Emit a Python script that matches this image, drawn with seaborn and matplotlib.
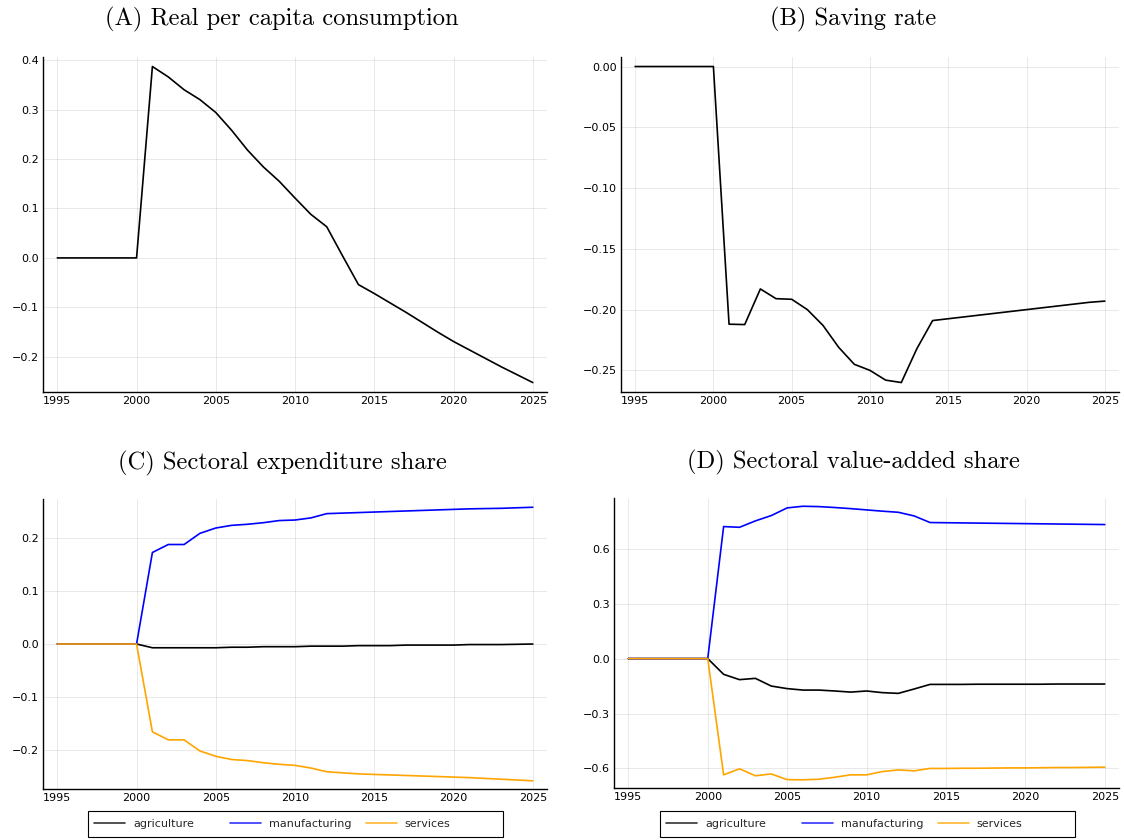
import matplotlib
matplotlib.use('Agg')
import matplotlib.pyplot as plt
import seaborn as sns
import pandas as pd
from matplotlib.ticker import FuncFormatter
from matplotlib.lines import Line2D
from matplotlib.patches import Rectangle

years = list(range(1995, 2026))

# (A) real per capita consumption
consumption = [0.0, 0.0, 0.0, 0.0, 0.0, 0.0,
               0.387, 0.366, 0.340, 0.320, 0.294, 0.258, 0.218, 0.184, 0.155, 0.121,
               0.088, 0.063, 0.004, -0.054, -0.072, -0.091, -0.110, -0.130, -0.150, -0.169,
               -0.186, -0.203, -0.220, -0.236, -0.252]

# (B) saving rate
saving = [0.0, 0.0, 0.0, 0.0, 0.0, 0.0,
          -0.212, -0.2123, -0.183, -0.191, -0.1915, -0.200, -0.213, -0.231, -0.245, -0.250,
          -0.258, -0.260, -0.232, -0.209, -0.2075, -0.206, -0.2045, -0.203, -0.2015, -0.200,
          -0.1985, -0.197, -0.1955, -0.194, -0.193]

# (C) sectoral expenditure share
exp_agri = [0.0, 0.0, 0.0, 0.0, 0.0, 0.0,
            -0.007, -0.007, -0.007, -0.007, -0.007, -0.006, -0.006, -0.005, -0.005, -0.005,
            -0.004, -0.004, -0.004, -0.003, -0.003, -0.003, -0.002, -0.002, -0.002, -0.002,
            -0.001, -0.001, -0.001, -0.0005, 0.0]
exp_manu = [0.0, 0.0, 0.0, 0.0, 0.0, 0.0,
            0.172, 0.187, 0.187, 0.208, 0.218, 0.223, 0.225, 0.228, 0.232, 0.233,
            0.237, 0.245, 0.246, 0.247, 0.248, 0.249, 0.250, 0.251, 0.252, 0.253,
            0.254, 0.2545, 0.255, 0.256, 0.257]
exp_serv = [0.0, 0.0, 0.0, 0.0, 0.0, 0.0,
            -0.165, -0.180, -0.180, -0.201, -0.211, -0.217, -0.219, -0.223, -0.226, -0.228,
            -0.233, -0.240, -0.242, -0.244, -0.245, -0.246, -0.247, -0.248, -0.249, -0.250,
            -0.251, -0.2525, -0.254, -0.2555, -0.257]

# (D) sectoral value-added share
va_agri = [0.0, 0.0, 0.0, 0.0, 0.0, 0.0,
           -0.086, -0.115, -0.108, -0.150, -0.164, -0.172, -0.172, -0.177, -0.183, -0.177,
           -0.186, -0.190, -0.166, -0.141, -0.141, -0.141, -0.140, -0.140, -0.140, -0.140,
           -0.140, -0.139, -0.139, -0.139, -0.139]
va_manu = [0.0, 0.0, 0.0, 0.0, 0.0, 0.0,
           0.721, 0.717, 0.752, 0.781, 0.823, 0.832, 0.830, 0.825, 0.819, 0.812,
           0.805, 0.799, 0.779, 0.743, 0.742, 0.741, 0.740, 0.739, 0.738, 0.737,
           0.736, 0.735, 0.734, 0.733, 0.732]
va_serv = [0.0, 0.0, 0.0, 0.0, 0.0, 0.0,
           -0.635, -0.602, -0.640, -0.630, -0.661, -0.662, -0.659, -0.648, -0.635, -0.635,
           -0.617, -0.608, -0.613, -0.600, -0.600, -0.599, -0.599, -0.598, -0.597, -0.597,
           -0.596, -0.595, -0.595, -0.594, -0.593]

sectors = ['agriculture', 'manufacturing', 'services']
sector_colors = {'agriculture': 'black', 'manufacturing': 'blue', 'services': '#FFA500'}

titles = ['(A) Real per capita consumption', '(B) Saving rate',
          '(C) Sectoral expenditure share', '(D) Sectoral value-added share']
x_ticks = [1995, 2000, 2005, 2010, 2015, 2020, 2025]
yticks_a = [-0.2, -0.1, 0.0, 0.1, 0.2, 0.3, 0.4]
yticks_b = [-0.25, -0.20, -0.15, -0.10, -0.05, 0.00]
yticks_c = [-0.2, -0.1, 0.0, 0.1, 0.2]
yticks_d = [-0.6, -0.3, 0.0, 0.3, 0.6]


def long_frame(agri, manu, serv):
    return pd.DataFrame({
        'year': years * 3,
        'value': agri + manu + serv,
        'sector': [s for s in sectors for _ in years],
    })


def minus_fmt(fmt):
    return FuncFormatter(lambda v, pos: (fmt % v).replace('-', '\u2212'))


sns.set_style('white')
plt.rcParams['font.family'] = ['DejaVu Sans']

W, H = 1124, 840
fig = plt.figure(figsize=(W / 100, H / 100), dpi=100)
ax_a = fig.add_axes([0.0383, 0.5333, 0.4484, 0.3988])
ax_b = fig.add_axes([0.5525, 0.5333, 0.4430, 0.3988])
ax_c = fig.add_axes([0.0383, 0.0607, 0.4484, 0.3452])
ax_d = fig.add_axes([0.5463, 0.0619, 0.4493, 0.3452])

lw = 1.2
sns.lineplot(x=years, y=consumption, ax=ax_a, color='black', lw=lw)
sns.lineplot(x=years, y=saving, ax=ax_b, color='black', lw=lw)
sns.lineplot(data=long_frame(exp_agri, exp_manu, exp_serv), x='year', y='value',
             hue='sector', palette=sector_colors, ax=ax_c, lw=lw, legend=False)
sns.lineplot(data=long_frame(va_agri, va_manu, va_serv), x='year', y='value',
             hue='sector', palette=sector_colors, ax=ax_d, lw=lw, legend=False)

# title x-centre (axes fraction) and pad per panel
title_x = [0.474, 0.466, 0.474, 0.474]
title_pad = [23, 23, 21.5, 21.5]

for ax, title, yt, fmt, tx, tp in zip([ax_a, ax_b, ax_c, ax_d], titles,
                                      [yticks_a, yticks_b, yticks_c, yticks_d],
                                      ['%.1f', '%.2f', '%.1f', '%.1f'],
                                      title_x, title_pad):
    ax.margins(x=0.03, y=0.03)
    ax.set_xticks(x_ticks)
    ax.set_yticks(yt)
    ax.yaxis.set_major_formatter(minus_fmt(fmt))
    ax.set_xlabel('')
    ax.set_ylabel('')
    ax.grid(True, color='black', alpha=0.1, lw=0.6)
    for side in ['top', 'right']:
        ax.spines[side].set_visible(False)
    for side in ['left', 'bottom']:
        ax.spines[side].set_color('black')
        ax.spines[side].set_linewidth(1.0)
    ax.tick_params(axis='both', labelsize=8, length=2, width=0.6, direction='in',
                   colors='black', pad=3)
    ax.set_title(title, fontfamily='cmr10', fontsize=17.7, color='black',
                 x=tx, pad=tp)

# legends below the sector panels: framed box with three equal-width columns
for x0 in [88, 660]:
    fig.add_artist(Rectangle((x0 / W, (H - 837) / H), 415 / W, 26 / H,
                             transform=fig.transFigure, fill=False,
                             edgecolor='black', lw=0.8))
    for i, s in enumerate(sectors):
        h = Line2D([], [], color=sector_colors[s], lw=lw, alpha=0.8)
        fig.legend([h], [s], loc='center left',
                   bbox_to_anchor=((x0 + 6 + 136 * i) / W, (H - 824) / H),
                   frameon=False, fontsize=8, borderpad=0, borderaxespad=0,
                   handlelength=2.8, handletextpad=0.7)

plt.savefig('out.png', dpi=100)
plt.close()
